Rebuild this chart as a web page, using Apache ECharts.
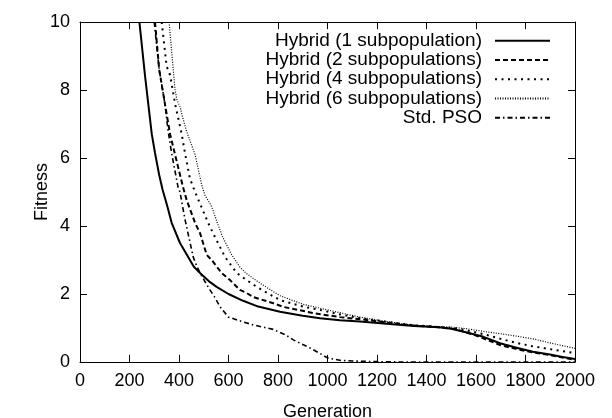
<!DOCTYPE html>
<html>
<head>
<meta charset="utf-8">
<script src="https://cdn.jsdelivr.net/npm/echarts@6/dist/echarts.min.js"></script>
<style>
  html, body { margin: 0; padding: 0; background: #fff; }
  #chart { width: 612px; height: 418px; }
</style>
</head>
<body>
<div id="chart"></div>
<script>
// [generation, fitness]
const hybrid1 = [
  [240, 10], [263, 8.4], [290, 6.7], [303, 6.15], [320, 5.5], [334, 5.06], [352, 4.6],
  [370, 4.1], [404, 3.5], [437, 3.09], [460, 2.8], [485, 2.62], [520, 2.38], [552, 2.21],
  [600, 2.0], [659, 1.8], [720, 1.63], [808, 1.48], [900, 1.36], [970, 1.29], [1050, 1.23],
  [1131, 1.19], [1250, 1.12], [1350, 1.06], [1450, 1.02], [1500, 0.98], [1563, 0.87],
  [1630, 0.74], [1697, 0.55], [1764, 0.42], [1830, 0.3], [1899, 0.22], [1950, 0.15], [2000, 0.09]
]
const hybrid2 = [
  [303, 10], [320, 8.6], [343, 7.6], [364, 6.7], [384, 6.1], [416, 5.15], [431, 4.76],
  [465, 4.09], [485, 3.79], [512, 3.15], [532, 3.0], [572, 2.62], [606, 2.41], [646, 2.12],
  [673, 2.03], [700, 1.91], [781, 1.73], [822, 1.62], [950, 1.43], [1050, 1.32], [1131, 1.26],
  [1250, 1.15], [1350, 1.07], [1450, 1.02], [1520, 0.96], [1600, 0.78], [1697, 0.5],
  [1764, 0.38], [1830, 0.28], [1899, 0.2], [2000, 0.06]
]
const hybrid4 = [
  [330, 10], [350, 8.7], [364, 8.44], [384, 7.6], [411, 6.7], [424, 6.15], [444, 5.4],
  [465, 5.0], [518, 4.09], [540, 3.75], [586, 3.09], [633, 2.62], [673, 2.41], [714, 2.21],
  [808, 1.82], [900, 1.63], [970, 1.53], [1050, 1.4], [1131, 1.29], [1250, 1.17], [1350, 1.08],
  [1450, 1.03], [1530, 0.98], [1630, 0.82], [1700, 0.68], [1764, 0.56], [1830, 0.46],
  [1899, 0.38], [2000, 0.26]
]
const hybrid6 = [
  [360, 10], [372, 9.0], [384, 8.0], [392, 7.7], [405, 7.5], [411, 7.3], [430, 6.8],
  [455, 6.3], [465, 6.1], [471, 5.9], [492, 5.2], [505, 4.9], [530, 4.6], [538, 4.45],
  [552, 4.15], [575, 3.7], [613, 3.15], [645, 2.8], [673, 2.6], [727, 2.32], [808, 1.95],
  [900, 1.7], [970, 1.58], [1050, 1.45], [1131, 1.32], [1250, 1.18], [1350, 1.08],
  [1450, 1.04], [1495, 1.03], [1560, 0.98], [1630, 0.9], [1700, 0.83], [1764, 0.76],
  [1830, 0.68], [1899, 0.56], [1950, 0.48], [2000, 0.4]
]
const stdPso = [
  [300, 10], [320, 8.6], [343, 7.6], [356, 6.8], [370, 6.15], [396, 5.15], [404, 5.0],
  [424, 4.2], [436, 3.8], [457, 3.1], [470, 2.85], [485, 2.62], [510, 2.3], [525, 2.12],
  [545, 1.9], [566, 1.62], [600, 1.32], [650, 1.2], [700, 1.09], [780, 0.96], [830, 0.8],
  [862, 0.65], [930, 0.41], [970, 0.25], [1000, 0.12], [1050, 0.05], [1100, 0.03],
  [1200, 0.01], [1300, 0], [2000, 0]
]
const seriesNames = [
  'Hybrid (1 subpopulation)',
  'Hybrid (2 subpopulations)',
  'Hybrid (4 subpopulations)',
  'Hybrid (6 subpopulations)',
  'Std. PSO'
]
const xTicks = [0, 200, 400, 600, 800, 1000, 1200, 1400, 1600, 1800, 2000]
const yTicks = [0, 2, 4, 6, 8, 10]

const font = '"Liberation Sans", Arial, Helvetica, sans-serif'
const chart = echarts.init(document.getElementById('chart'))
// tick length, about 7px, in data units of each axis
const TICK_Y = 0.21
const TICK_X = 28

// gnuplot style mirrored inside ticks, drawn as markLine segments
const tickLines = []
xTicks.forEach((v) => {
  tickLines.push([{ coord: [v, 0] }, { coord: [v, TICK_Y] }])
  tickLines.push([{ coord: [v, 10] }, { coord: [v, 10 - TICK_Y] }])
})
yTicks.forEach((v) => {
  tickLines.push([{ coord: [0, v] }, { coord: [TICK_X, v] }])
  tickLines.push([{ coord: [2000, v] }, { coord: [2000 - TICK_X, v] }])
})

const mkLine = (name, data, width, dash) => ({
  name: name,
  type: 'line',
  data: data,
  symbol: 'none',
  lineStyle: { color: '#000', width: width, type: dash },
  itemStyle: { color: '#000' },
})

const axisLine = () => ({ show: true, onZero: false, lineStyle: { color: '#000', width: 1 } })
const label = { fontFamily: font, fontSize: 18, color: '#000', margin: 10, formatter: (v) => String(v) }

const solid = mkLine(seriesNames[0], hybrid1, 2, 'solid')
solid.markLine = {
  silent: true,
  animation: false,
  symbol: ['none', 'none'],
  label: { show: false },
  emphasis: { disabled: true },
  lineStyle: { color: '#000', width: 1, type: 'solid', opacity: 1 },
  data: tickLines,
}

const option = {
  animation: false,
  backgroundColor: '#fff',
  textStyle: { fontFamily: font },
  grid: { left: 80, right: 37, top: 22, bottom: 56, outerBoundsMode: 'none', containLabel: false },
  legend: {
    data: seriesNames,
    orient: 'vertical',
    align: 'right',
    right: 61,
    top: 31,
    padding: 0,
    itemGap: 0,
    itemWidth: 55,
    itemHeight: 10,
    itemStyle: { opacity: 0 },
    textStyle: { fontFamily: font, fontSize: 19, color: '#000', lineHeight: 19.3, padding: [0, 8, 0, 0] },
  },
  xAxis: [
    {
      type: 'value', min: 0, max: 2000, interval: 200,
      name: 'Generation', nameLocation: 'middle', nameGap: 41, nameMoveOverlap: false,
      nameTextStyle: { fontFamily: font, fontSize: 18, color: '#000' },
      axisLine: axisLine(), axisTick: { show: false }, axisLabel: label,
      splitLine: { show: false },
    },
    {
      type: 'value', min: 0, max: 2000, interval: 200, position: 'top',
      axisLine: axisLine(), axisTick: { show: false }, axisLabel: { show: false },
      splitLine: { show: false },
    },
  ],
  yAxis: [
    {
      type: 'value', min: 0, max: 10, interval: 2,
      name: 'Fitness', nameLocation: 'middle', nameGap: 29, nameRotate: 90, nameMoveOverlap: false,
      nameTextStyle: { fontFamily: font, fontSize: 18, color: '#000' },
      axisLine: axisLine(), axisTick: { show: false }, axisLabel: label,
      splitLine: { show: false },
    },
    {
      type: 'value', min: 0, max: 10, interval: 2, position: 'right',
      axisLine: axisLine(), axisTick: { show: false }, axisLabel: { show: false },
      splitLine: { show: false },
    },
  ],
  series: [
    solid,
    mkLine(seriesNames[1], hybrid2, 2, [5, 3]),
    mkLine(seriesNames[2], hybrid4, 2, [2, 4.5]),
    mkLine(seriesNames[3], hybrid6, 1.2, [1, 1.5]),
    mkLine(seriesNames[4], stdPso, 1.6, [5, 3, 1.5, 3]),
  ],
}

chart.setOption(option)
</script>
</body>
</html>
